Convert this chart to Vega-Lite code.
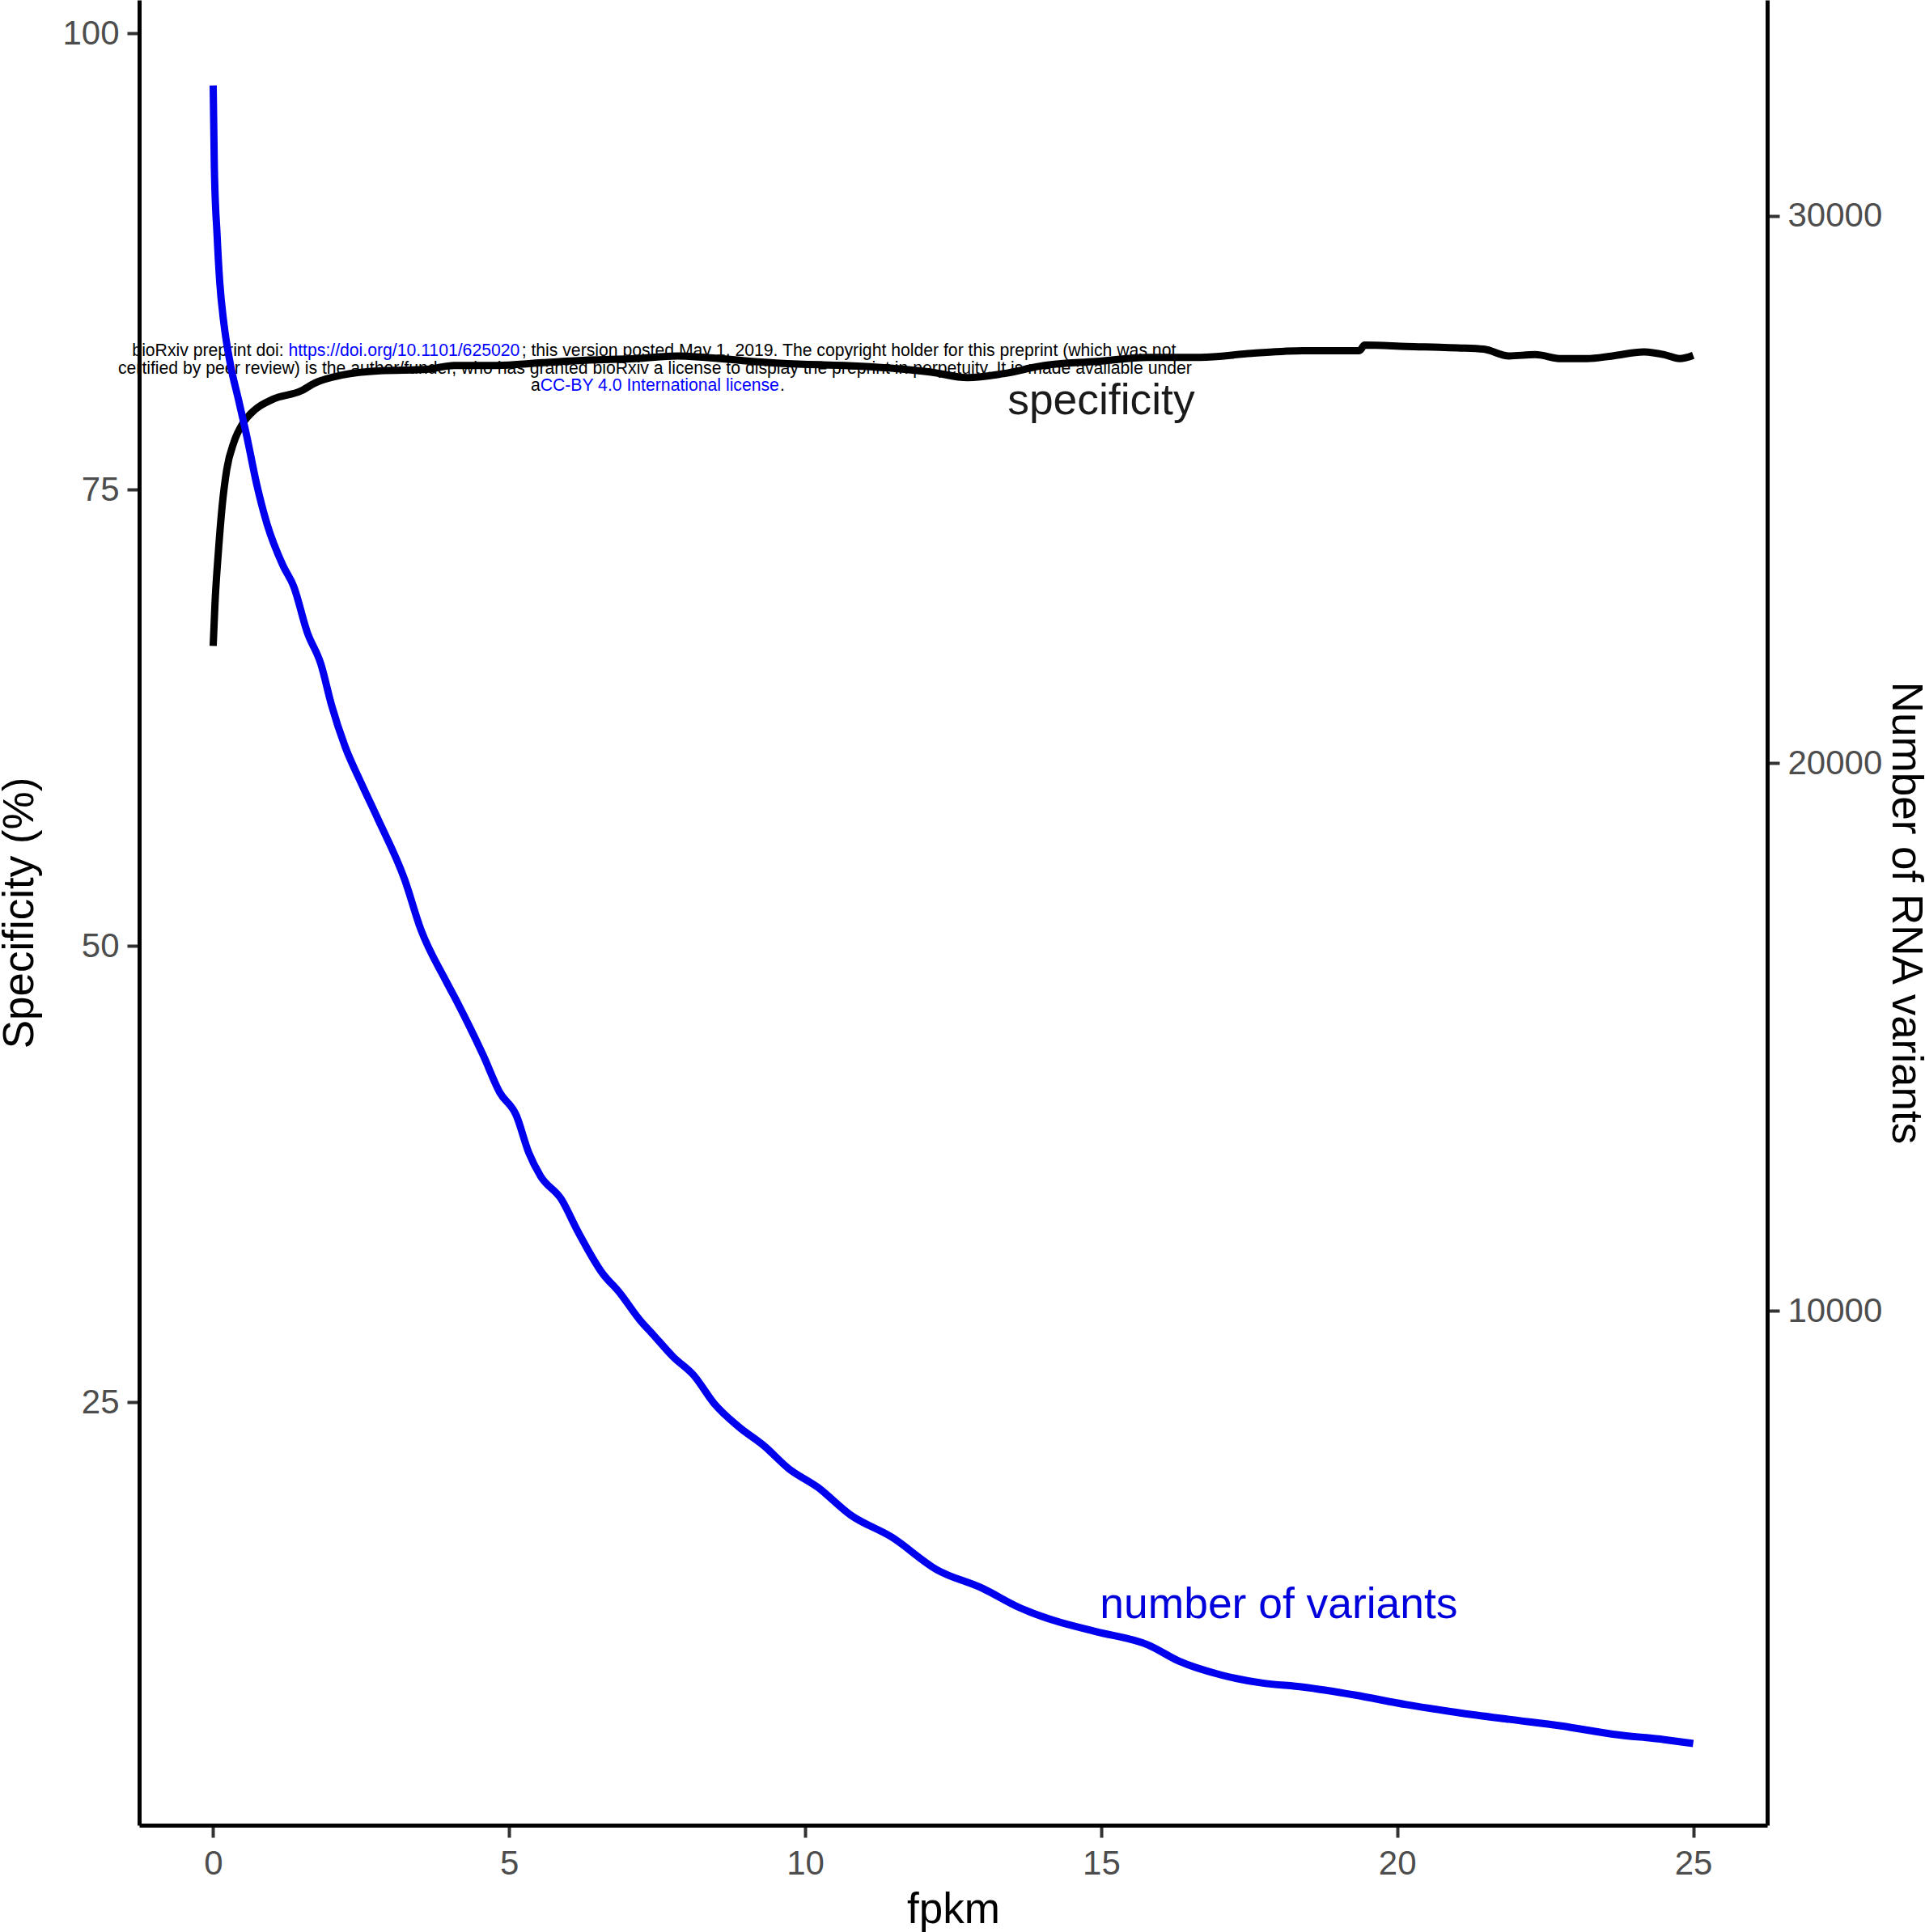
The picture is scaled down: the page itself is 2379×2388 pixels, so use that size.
{
  "$schema": "https://vega.github.io/schema/vega-lite/v6.json",
  "width": 2012,
  "height": 2256,
  "autosize": {"type": "none"},
  "padding": {"left": 172, "top": 0, "right": 195, "bottom": 132},
  "background": "white",
  "config": {
    "view": {"stroke": null},
    "font": "Liberation Sans",
    "axis": {
      "grid": false,
      "domainColor": "#000000",
      "domainWidth": 5,
      "tickColor": "#333333",
      "tickWidth": 4,
      "tickSize": 15,
      "labelColor": "#4d4d4d",
      "labelFontSize": 42,
      "labelFont": "Liberation Sans",
      "labelPadding": 10,
      "titleFont": "Liberation Sans",
      "titleFontSize": 53,
      "titleFontWeight": "normal",
      "titleColor": "#000000"
    }
  },
  "datasets": {
    "spec": [
      {"fpkm": 0, "specificity": 66.43}, {"fpkm": 0.03, "specificity": 68.72}, {"fpkm": 0.09, "specificity": 71.68},
      {"fpkm": 0.15, "specificity": 74.04}, {"fpkm": 0.23, "specificity": 76.11}, {"fpkm": 0.35, "specificity": 77.59},
      {"fpkm": 0.5, "specificity": 78.62}, {"fpkm": 0.7, "specificity": 79.36}, {"fpkm": 1.01, "specificity": 79.95},
      {"fpkm": 1.48, "specificity": 80.4}, {"fpkm": 1.72, "specificity": 80.84}, {"fpkm": 2.19, "specificity": 81.28},
      {"fpkm": 2.82, "specificity": 81.51}, {"fpkm": 3.6, "specificity": 81.58}, {"fpkm": 4.07, "specificity": 81.8},
      {"fpkm": 4.78, "specificity": 81.8}, {"fpkm": 5.56, "specificity": 81.95}, {"fpkm": 6.35, "specificity": 82.09},
      {"fpkm": 7.13, "specificity": 82.17}, {"fpkm": 7.84, "specificity": 82.32}, {"fpkm": 8.31, "specificity": 82.24},
      {"fpkm": 9.1, "specificity": 82.02}, {"fpkm": 9.88, "specificity": 81.87}, {"fpkm": 10.66, "specificity": 81.8},
      {"fpkm": 11.45, "specificity": 81.65}, {"fpkm": 12.13, "specificity": 81.43}, {"fpkm": 12.74, "specificity": 81.13},
      {"fpkm": 13.35, "specificity": 81.35}, {"fpkm": 14.04, "specificity": 81.8}, {"fpkm": 14.92, "specificity": 82.02},
      {"fpkm": 15.79, "specificity": 82.24}, {"fpkm": 16.67, "specificity": 82.24}, {"fpkm": 17.54, "specificity": 82.46},
      {"fpkm": 18.41, "specificity": 82.61}, {"fpkm": 19.36, "specificity": 82.61}, {"fpkm": 19.45, "specificity": 82.91},
      {"fpkm": 20.15, "specificity": 82.84}, {"fpkm": 21.02, "specificity": 82.76}, {"fpkm": 21.46, "specificity": 82.69},
      {"fpkm": 21.89, "specificity": 82.32}, {"fpkm": 22.33, "specificity": 82.39}, {"fpkm": 22.77, "specificity": 82.17},
      {"fpkm": 23.2, "specificity": 82.17}, {"fpkm": 23.64, "specificity": 82.32}, {"fpkm": 24.16, "specificity": 82.54},
      {"fpkm": 24.51, "specificity": 82.39}, {"fpkm": 24.77, "specificity": 82.17}, {"fpkm": 25.0, "specificity": 82.35}
    ],
    "vars": [
      {"fpkm": 0, "variants": 32380}, {"fpkm": 0.02, "variants": 30870}, {"fpkm": 0.066, "variants": 29650},
      {"fpkm": 0.11, "variants": 28800}, {"fpkm": 0.18, "variants": 28040}, {"fpkm": 0.29, "variants": 27290},
      {"fpkm": 0.43, "variants": 26630}, {"fpkm": 0.57, "variants": 25960}, {"fpkm": 0.73, "variants": 25120},
      {"fpkm": 0.91, "variants": 24370}, {"fpkm": 1.18, "variants": 23610}, {"fpkm": 1.36, "variants": 23230},
      {"fpkm": 1.59, "variants": 22390}, {"fpkm": 1.82, "variants": 21810}, {"fpkm": 2.0, "variants": 21060},
      {"fpkm": 2.23, "variants": 20300}, {"fpkm": 2.5, "variants": 19640}, {"fpkm": 2.78, "variants": 18990},
      {"fpkm": 3.23, "variants": 17890}, {"fpkm": 3.51, "variants": 16960}, {"fpkm": 3.93, "variants": 16030},
      {"fpkm": 4.14, "variants": 15600}, {"fpkm": 4.56, "variants": 14670}, {"fpkm": 4.84, "variants": 13990},
      {"fpkm": 5.12, "variants": 13570}, {"fpkm": 5.33, "variants": 12890}, {"fpkm": 5.53, "variants": 12460},
      {"fpkm": 5.88, "variants": 12040}, {"fpkm": 6.16, "variants": 11450}, {"fpkm": 6.58, "variants": 10680},
      {"fpkm": 6.86, "variants": 10340}, {"fpkm": 7.21, "variants": 9830}, {"fpkm": 7.42, "variants": 9580},
      {"fpkm": 7.77, "variants": 9160}, {"fpkm": 8.12, "variants": 8820}, {"fpkm": 8.46, "variants": 8310},
      {"fpkm": 8.88, "variants": 7880}, {"fpkm": 9.3, "variants": 7540}, {"fpkm": 9.72, "variants": 7120},
      {"fpkm": 10.21, "variants": 6780}, {"fpkm": 10.77, "variants": 6270}, {"fpkm": 11.46, "variants": 5870},
      {"fpkm": 12.22, "variants": 5275}, {"fpkm": 13.0, "variants": 4930}, {"fpkm": 13.61, "variants": 4585},
      {"fpkm": 14.22, "variants": 4340}, {"fpkm": 14.92, "variants": 4140}, {"fpkm": 15.79, "variants": 3900},
      {"fpkm": 16.32, "variants": 3600}, {"fpkm": 17.01, "variants": 3355}, {"fpkm": 17.71, "variants": 3205},
      {"fpkm": 18.41, "variants": 3130}, {"fpkm": 19.28, "variants": 2985}, {"fpkm": 20.15, "variants": 2810},
      {"fpkm": 21.02, "variants": 2665}, {"fpkm": 21.89, "variants": 2540}, {"fpkm": 22.77, "variants": 2420},
      {"fpkm": 23.64, "variants": 2270}, {"fpkm": 24.51, "variants": 2170}, {"fpkm": 25.0, "variants": 2100}
    ],
    "spec_label": [{"label": "specificity", "fpkm": 15, "specificity": 79.14}],
    "vars_label": [{"label": "number of variants", "fpkm": 18, "variants": 4390}],
    "stamp_left": [
      {"text": "; this version posted May 1, 2019. The copyright holder for this preprint (which was not", "fpkm": 5.21, "specificity": 82.32},
      {"text": "certified by peer review) is the author/funder, who has granted bioRxiv a license to display the preprint in perpetuity. It is made available under", "fpkm": -1.606, "specificity": 81.35},
      {"text": ".", "fpkm": 9.575, "specificity": 80.42}
    ],
    "stamp_right": [
      {"text": "bioRxiv preprint doi:", "fpkm": 1.191, "specificity": 82.32},
      {"text": "a", "fpkm": 5.525, "specificity": 80.42}
    ],
    "stamp_link": [
      {"text": "https://doi.org/10.1101/625020", "fpkm": 1.271, "specificity": 82.32},
      {"text": "CC-BY 4.0 International license", "fpkm": 5.525, "specificity": 80.42}
    ]
  },
  "layer": [
    {
      "data": {"name": "stamp_left"},
      "mark": {"type": "text", "font": "Liberation Sans", "fontSize": 21.2, "align": "left", "baseline": "alphabetic", "color": "#000000"},
      "encoding": {
        "x": {"field": "fpkm", "type": "quantitative", "scale": {"domain": [-1.25, 26.25], "nice": false, "zero": false},
              "axis": {"title": "fpkm", "values": [0, 5, 10, 15, 20, 25], "labelPadding": 12, "titlePadding": 10, "labelFlush": false}},
        "y": {"field": "specificity", "type": "quantitative", "scale": {"domain": [1.82, 101.82], "nice": false, "zero": false}, "axis": null},
        "text": {"field": "text", "type": "nominal"}
      }
    },
    {
      "data": {"name": "stamp_right"},
      "mark": {"type": "text", "font": "Liberation Sans", "fontSize": 21.2, "align": "right", "baseline": "alphabetic", "color": "#000000"},
      "encoding": {
        "x": {"field": "fpkm", "type": "quantitative", "scale": {"domain": [-1.25, 26.25], "nice": false, "zero": false},
              "axis": {"title": "fpkm", "values": [0, 5, 10, 15, 20, 25], "labelPadding": 12, "titlePadding": 10, "labelFlush": false}},
        "y": {"field": "specificity", "type": "quantitative", "scale": {"domain": [1.82, 101.82], "nice": false, "zero": false}, "axis": null},
        "text": {"field": "text", "type": "nominal"}
      }
    },
    {
      "data": {"name": "stamp_link"},
      "mark": {"type": "text", "font": "Liberation Sans", "fontSize": 21.2, "align": "left", "baseline": "alphabetic", "color": "#0000ff"},
      "encoding": {
        "x": {"field": "fpkm", "type": "quantitative", "scale": {"domain": [-1.25, 26.25], "nice": false, "zero": false},
              "axis": {"title": "fpkm", "values": [0, 5, 10, 15, 20, 25], "labelPadding": 12, "titlePadding": 10, "labelFlush": false}},
        "y": {"field": "specificity", "type": "quantitative", "scale": {"domain": [1.82, 101.82], "nice": false, "zero": false}, "axis": null},
        "text": {"field": "text", "type": "nominal"}
      }
    },
    {
      "data": {"name": "spec"},
      "mark": {"type": "line", "color": "#000000", "strokeWidth": 9, "strokeJoin": "round", "interpolate": "monotone"},
      "encoding": {
        "x": {"field": "fpkm", "type": "quantitative", "scale": {"domain": [-1.25, 26.25], "nice": false, "zero": false},
              "axis": {"title": "fpkm", "values": [0, 5, 10, 15, 20, 25], "labelPadding": 12, "titlePadding": 10, "labelFlush": false}},
        "y": {"field": "specificity", "type": "quantitative", "scale": {"domain": [1.82, 101.82], "nice": false, "zero": false},
              "axis": {"orient": "left", "title": "Specificity (%)", "values": [25, 50, 75, 100], "titlePadding": 25}}
      }
    },
    {
      "data": {"name": "spec_label"},
      "mark": {"type": "text", "font": "Liberation Sans", "fontSize": 53.4, "align": "center", "baseline": "alphabetic", "color": "#1a1a1a"},
      "encoding": {
        "x": {"field": "fpkm", "type": "quantitative", "scale": {"domain": [-1.25, 26.25], "nice": false, "zero": false},
              "axis": {"title": "fpkm", "values": [0, 5, 10, 15, 20, 25], "labelPadding": 12, "titlePadding": 10, "labelFlush": false}},
        "y": {"field": "specificity", "type": "quantitative", "scale": {"domain": [1.82, 101.82], "nice": false, "zero": false}, "axis": null},
        "text": {"field": "label", "type": "nominal"}
      }
    },
    {
      "data": {"name": "vars"},
      "mark": {"type": "line", "color": "#0000ee", "strokeWidth": 9, "strokeJoin": "round", "interpolate": "monotone"},
      "encoding": {
        "x": {"field": "fpkm", "type": "quantitative", "scale": {"domain": [-1.25, 26.25], "nice": false, "zero": false},
              "axis": {"title": "fpkm", "values": [0, 5, 10, 15, 20, 25], "labelPadding": 12, "titlePadding": 10, "labelFlush": false}},
        "y": {"field": "variants", "type": "quantitative", "scale": {"domain": [606.67, 33940], "nice": false, "zero": false},
              "axis": {"orient": "right", "title": "Number of RNA variants", "values": [10000, 20000, 30000], "format": "d", "titlePadding": 1.5}}
      }
    },
    {
      "data": {"name": "vars_label"},
      "mark": {"type": "text", "font": "Liberation Sans", "fontSize": 53.4, "align": "center", "baseline": "alphabetic", "color": "#0000dd"},
      "encoding": {
        "x": {"field": "fpkm", "type": "quantitative", "scale": {"domain": [-1.25, 26.25], "nice": false, "zero": false},
              "axis": {"title": "fpkm", "values": [0, 5, 10, 15, 20, 25], "labelPadding": 12, "titlePadding": 10, "labelFlush": false}},
        "y": {"field": "variants", "type": "quantitative", "scale": {"domain": [606.67, 33940], "nice": false, "zero": false}, "axis": null},
        "text": {"field": "label", "type": "nominal"}
      }
    }
  ],
  "resolve": {"scale": {"y": "independent"}}
}
